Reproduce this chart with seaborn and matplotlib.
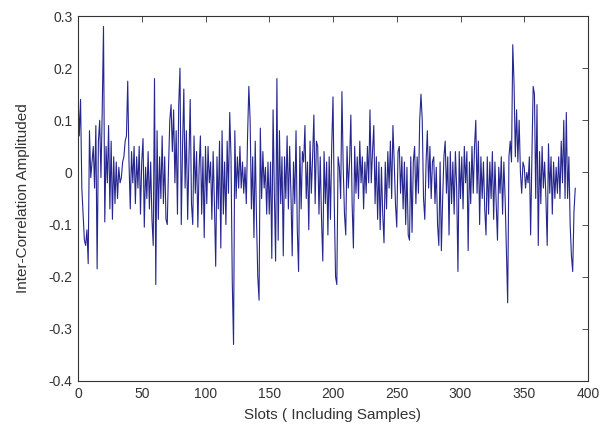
import numpy as np
import pandas as pd
import matplotlib
matplotlib.use("Agg")
import matplotlib.pyplot as plt
import seaborn as sns

# -----------------------------
# Data
# -----------------------------

amplitude = [
    0.15, 0.07, 0.14, -0.03, -0.08, -0.13, -0.14, -0.11, -0.175, 0.08,
    -0.01, 0.02, 0.05, -0.03, 0.09, -0.185, 0.06, 0.10, -0.01, 0.12,
    0.28, -0.095, 0.05, -0.02, 0.09, -0.07, 0.06, -0.09, 0.03, -0.06,
    0.02, -0.05, 0.01, -0.02, -0.01, 0.02, 0.03, 0.06, 0.07, 0.175,
    0.02, -0.07, 0.04, -0.02, 0.05, -0.06, 0.03, -0.03, 0.05, -0.08,
    0.02, 0.065, -0.105, 0.01, -0.05, 0.04, -0.07, 0.02, -0.09, -0.14,
    0.18, -0.215, 0.08, -0.09, 0.03, -0.05, 0.07, -0.06, 0.03, -0.09,
    -0.10, 0.01, 0.10, 0.13, 0.04, 0.12, -0.02, 0.08, -0.08, 0.13,
    0.20, -0.10, 0.05, 0.16, -0.03, 0.08, -0.09, 0.03, 0.14, -0.06,
    -0.10, 0.07, -0.04, 0.04, -0.105, 0.01, 0.07, -0.08, 0.03, -0.125,
    0.05, -0.06, 0.05, -0.02, 0.02, -0.09, 0.04, -0.06, -0.18, 0.03,
    -0.07, 0.06, -0.145, 0.08, -0.08, 0.02, -0.10, 0.06, -0.04, 0.115,
    0.03, -0.21, -0.33, 0.08, -0.05, 0.03, -0.03, 0.05, -0.03, 0.02,
    -0.04, 0.01, -0.06, 0.07, 0.165, 0.10, -0.07, 0.03, -0.125, 0.06,
    -0.09, -0.20, -0.245, 0.085, -0.05, 0.04, -0.03, 0.01, -0.08, 0.02,
    -0.08, 0.02, -0.165, 0.12, -0.04, -0.17, 0.18, -0.13, 0.08, -0.06,
    0.03, -0.16, 0.03, -0.05, 0.07, -0.07, 0.05, -0.04, -0.16, 0.02,
    -0.06, 0.08, -0.11, -0.19, 0.05, -0.07, 0.04, 0.02, 0.09, -0.05,
    0.02, -0.11, 0.06, -0.04, 0.03, 0.11, -0.06, 0.06, 0.05, -0.08,
    0.03, -0.09, -0.17, 0.04, -0.06, 0.02, -0.12, 0.03, -0.09, 0.05,
    0.145, -0.06, -0.20, -0.215, 0.03, 0.01, -0.05, 0.155, 0.01, -0.08,
    -0.12, 0.05, -0.03, 0.02, 0.11, -0.06, -0.145, 0.05, -0.04, 0.03,
    -0.05, 0.06, -0.02, 0.03, -0.07, 0.02, -0.04, 0.05, -0.02, 0.12,
    -0.02, 0.04, 0.09, -0.06, 0.03, -0.09, 0.02, -0.11, 0.01, -0.08,
    -0.135, 0.02, -0.07, 0.04, -0.03, 0.06, -0.05, 0.09, 0.02, -0.06,
    -0.105, 0.04, 0.05, -0.04, 0.03, -0.07, 0.02, -0.10, 0.01, -0.12,
    -0.13, 0.03, -0.115, 0.02, 0.05, -0.06, 0.03, -0.04, 0.10, 0.15,
    0.10, -0.05, -0.09, 0.02, 0.08, -0.03, 0.05, -0.05, 0.02, 0.03,
    -0.06, 0.01, -0.10, -0.14, 0.02, -0.15, -0.05, 0.03, 0.06, -0.04,
    0.03, -0.12, 0.04, -0.06, 0.02, -0.08, 0.04, -0.03, -0.19, 0.04,
    -0.05, 0.03, -0.07, 0.05, -0.02, 0.04, -0.15, 0.02, -0.06, 0.05,
    -0.04, 0.05, 0.10, -0.04, 0.06, -0.10, 0.03, -0.05, 0.02, -0.07,
    -0.12, 0.03, -0.08, 0.02, -0.05, 0.04, -0.09, 0.02, -0.06, -0.13,
    0.01, -0.04, 0.03, -0.08, 0.02, -0.05, -0.15, -0.25, 0.03, 0.06,
    0.02, 0.245, 0.17, 0.03, 0.12, 0.02, 0.10, 0.00, -0.04, 0.02,
    0.01, -0.03, 0.00, -0.02, 0.03, -0.12, 0.03, 0.165, 0.15, -0.05,
    0.13, -0.14, 0.04, -0.06, 0.05, -0.03, 0.02, -0.05, -0.14, 0.055,
    -0.04, 0.03, -0.08, 0.02, -0.05, 0.01, -0.04, 0.03, -0.05, 0.06,
    -0.02, 0.10, -0.05, 0.115, -0.05, 0.03, -0.10, -0.16, -0.19, -0.075,
    -0.03,
]
slots = list(range(len(amplitude)))

x_ticks = [0, 50, 100, 150, 200, 250, 300, 350, 400]
y_ticks = [-0.4, -0.3, -0.2, -0.1, 0, 0.1, 0.2, 0.3]
y_tick_labels = ["-0.4", "-0.3", "-0.2", "-0.1", "0", "0.1", "0.2", "0.3"]

df = pd.DataFrame({"slot": slots, "amp": amplitude})

# -----------------------------
# Plot
# -----------------------------

sns.set_style("white")
plt.rcParams["font.family"] = ["Liberation Sans", "DejaVu Sans"]

fig = plt.figure(figsize=(6.1, 4.25), dpi=100)
# axes box: 78..588 px wide, 16..381 px tall
ax = fig.add_axes([78 / 610, 1 - 381 / 425, 510 / 610, 365 / 425])

sns.lineplot(data=df, x="slot", y="amp", ax=ax, color="#26268f", linewidth=0.8)

ax.set_xlim(0, 400)
ax.set_ylim(-0.4, 0.3)
ax.set_xticks(x_ticks)
ax.set_yticks(y_ticks)
ax.set_yticklabels(y_tick_labels)
ax.tick_params(direction="in", top=True, right=True, length=4, width=0.6,
               labelsize=10, colors="#333333", pad=4)
for s in ax.spines.values():
    s.set_color("#333333")
    s.set_linewidth(0.8)

ax.set_xlabel("Slots ( Including Samples)", fontsize=11, color="#333333", labelpad=5)
ax.set_ylabel("Inter-Correlation Amplituded", fontsize=11, color="#333333", labelpad=13)

fig.savefig("out.png", dpi=100)
